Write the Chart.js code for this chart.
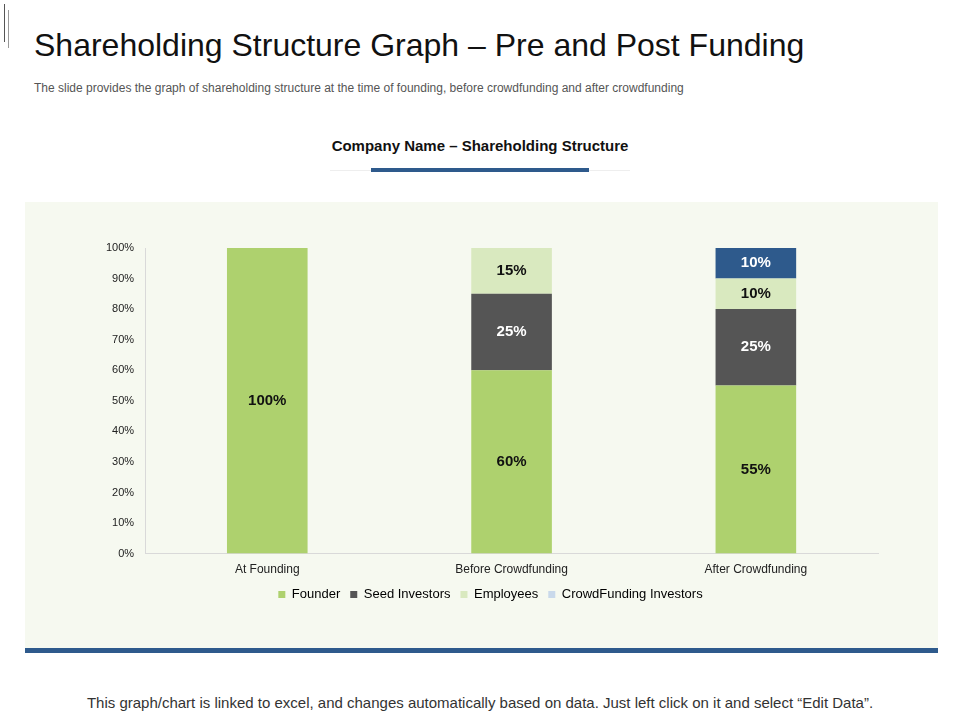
<!DOCTYPE html>
<html><head><meta charset="utf-8">
<script src="https://cdn.jsdelivr.net/npm/chart.js@4"></script>
<style>
body{margin:0;width:960px;height:720px;background:#fff;font-family:Arial,"Liberation Sans",sans-serif;position:relative;overflow:hidden}
.abs{position:absolute}
</style></head><body>
<div class="abs" style="left:4px;top:4px;width:1px;height:38px;background:#555"></div>
<div class="abs" style="left:8px;top:10px;width:1px;height:38px;background:#999"></div>
<div class="abs" style="left:34px;top:27px;font-size:32px;color:#111">Shareholding Structure Graph – Pre and Post Funding</div>
<div class="abs" style="left:34px;top:81px;font-size:12px;color:#555">The slide provides the graph of shareholding structure at the time of founding, before crowdfunding and after crowdfunding</div>
<div class="abs" style="left:0;width:960px;top:137px;text-align:center;font-size:15px;font-weight:bold;color:#111">Company Name – Shareholding Structure</div>
<div class="abs" style="left:330px;top:170px;width:300px;height:1px;background:#eee"></div>
<div class="abs" style="left:371px;top:168px;width:218px;height:4px;background:#2e5a8c"></div>
<div class="abs" style="left:25px;top:202px;width:913px;height:448px;background:#f6f9f0"></div>
<div class="abs" style="left:25px;top:648px;width:913px;height:5px;background:#2e5a8c"></div>
<div class="abs" style="left:25px;top:202px;width:913px;height:422px"><canvas id="c"></canvas></div>
<div class="abs" style="left:0;width:960px;top:694px;text-align:center;font-size:15px;color:#333">This graph/chart is linked to excel, and changes automatically based on data. Just left click on it and select “Edit Data”.</div>
<script>
const categories=["At Founding","Before Crowdfunding","After Crowdfunding"];
const founder=[100,60,55];
const seed=[0,25,25];
const employees=[0,15,10];
const crowd=[0,0,10];
const ticks=["0%","10%","20%","30%","40%","50%","60%","70%","80%","90%","100%"];
const legendColors=["#aed16e","#555555","#d9e9bf","#c9d9eb"];
const mk=(l,d,c,t)=>({label:l,data:d,backgroundColor:c,txt:t,barPercentage:0.33,categoryPercentage:1});
const labelPlugin={id:'lbl',afterDatasetsDraw(ch){const ctx=ch.ctx;ctx.save();ctx.font='bold 15px Arial';ctx.textAlign='center';ctx.textBaseline='middle';
ch.data.datasets.forEach((ds,i)=>{ch.getDatasetMeta(i).data.forEach((b,j)=>{const v=ds.data[j];if(!v)return;ctx.fillStyle=ds.txt;ctx.fillText(v+'%',b.x,(b.y+b.base)/2);});});ctx.restore();}};
new Chart(document.getElementById('c'),{type:'bar',
data:{labels:categories,datasets:[mk("Founder",founder,"#aed16e","#111"),mk("Seed Investors",seed,"#555555","#fff"),mk("Employees",employees,"#d9e9bf","#111"),mk("CrowdFunding Investors",crowd,"#2e5a8c","#fff")]},
options:{responsive:true,maintainAspectRatio:false,animation:false,
layout:{padding:{left:78,right:60,top:46,bottom:13}},
scales:{x:{stacked:true,grid:{display:false},border:{color:'#d9d9d9'},ticks:{padding:1,color:'#222',font:{size:12,family:'Arial'}}},
y:{stacked:true,min:0,max:100,ticks:{stepSize:10,color:'#222',font:{size:11,family:'Arial'},callback:(v)=>ticks[v/10]},grid:{display:false},border:{color:'#d9d9d9'}}},
plugins:{tooltip:{enabled:false},legend:{position:'bottom',labels:{boxWidth:7,boxHeight:7,padding:10,color:'#444',font:{size:13,family:'Arial'},
generateLabels:(ch)=>ch.data.datasets.map((d,i)=>({text:d.label,fillStyle:legendColors[i],strokeStyle:legendColors[i],lineWidth:0,datasetIndex:i}))}}}},
plugins:[labelPlugin]});
</script></body></html>
